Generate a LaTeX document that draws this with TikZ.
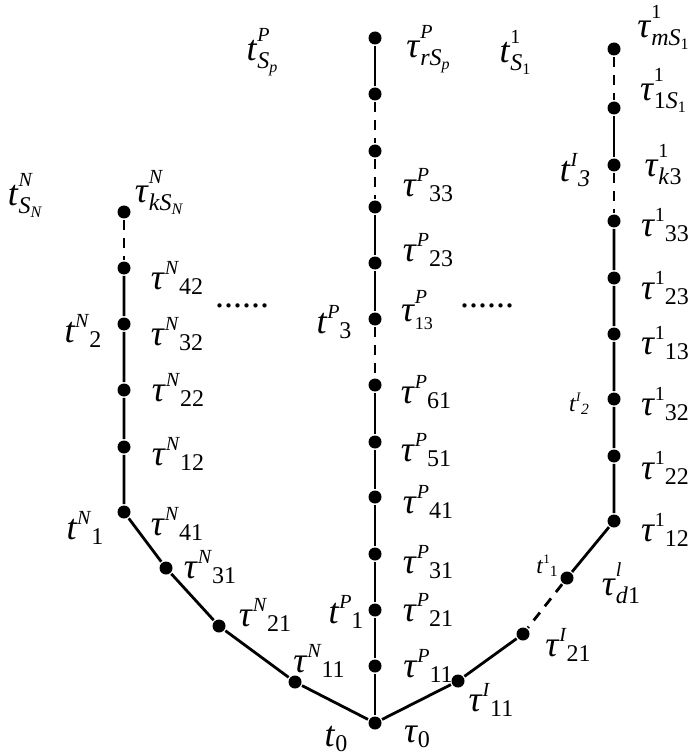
\documentclass[tikz,border=0pt]{standalone}
\usepackage{fontspec}
\usepackage{graphicx}
\setmainfont{Liberation Serif}
\newcommand{\tu}{\textit{τ}}
\newcommand{\ti}{\textit{t}}
\newcommand{\sps}{\fontsize{10}{10}\selectfont}
\newcommand{\sbs}{\fontsize{12}{12}\selectfont}
\newcommand{\stg}[3]{#1\raisebox{7.5pt}{\sps #2}\raisebox{-2.5pt}{\sbs #3}}
\newcommand{\stk}[3]{#1\rlap{\raisebox{9.5pt}{\sps #2}}\raisebox{-4pt}{\sbs #3}}
\newcommand{\low}[1]{\raisebox{-2pt}{\fontsize{8}{8}\selectfont #1}}
\tikzset{
  dot/.style={circle,fill,inner sep=0pt,minimum size=6.5pt},
  lab/.style={inner sep=0pt,font=\fontsize{18}{20}\selectfont},
  dash line/.style={dash pattern=on 5pt off 4pt}
}
\begin{document}
\begin{tikzpicture}[x=0.5pt,y=-0.5pt,line width=1.4pt]
\useasboundingbox (0,0) rectangle (688,754);
% dots of the middle branch
\node[dot] (m1) at (375,38){};
\node[dot] (m2) at (375,94){};
\node[dot] (m3) at (375,151){};
\node[dot] (m4) at (375,207){};
\node[dot] (m5) at (375,263){};
\node[dot] (m6) at (375,319){};
\node[dot] (m7) at (375,385){};
\node[dot] (m8) at (375,442){};
\node[dot] (m9) at (375,497){};
\node[dot] (m10) at (375,554){};
\node[dot] (m11) at (375,610){};
\node[dot] (m12) at (375,666){};
\node[dot] (o) at (375,723){};
% dots of the left branch
\node[dot] (l1) at (124,212){};
\node[dot] (l2) at (124,268){};
\node[dot] (l3) at (124,324){};
\node[dot] (l4) at (124,390){};
\node[dot] (l5) at (124,447){};
\node[dot] (l6) at (124,512){};
\node[dot] (l7) at (166,568){};
\node[dot] (l8) at (219,626){};
\node[dot] (l9) at (295,682){};
% dots of the right branch
\node[dot] (r1) at (614,49){};
\node[dot] (r2) at (614,108){};
\node[dot] (r3) at (614,165){};
\node[dot] (r4) at (614,221){};
\node[dot] (r5) at (614,278){};
\node[dot] (r6) at (614,334){};
\node[dot] (r7) at (614,399){};
\node[dot] (r8) at (614,456){};
\node[dot] (r9) at (614,521){};
\node[dot] (r10) at (567,578){};
\node[dot] (r11) at (523,634){};
\node[dot] (r12) at (458,681){};
% lines
\draw (m1)--(m2);
\draw[dash line] (m2)--(m3)--(m4);
\draw (m4)--(m5)--(m6);
\draw[dash line] (m6)--(m7);
\draw (m7)--(m8)--(m9)--(m10)--(m11)--(m12)--(o);
\draw[dash line] (l1)--(l2);
\draw (l2)--(l3)--(l4)--(l5)--(l6)--(l7)--(l8)--(l9)--(o);
\draw[dash line] (r1)--(r2);
\draw (r2)--(r3);
\draw[dash line] (r3)--(r4);
\draw (r4)--(r5)--(r6)--(r7)--(r8)--(r9)--(r10);
\draw[dash line] (r10)--(r11);
\draw (r11)--(r12)--(o);
% labels, left
\node[lab] (tSN) at (25,195){\stk{\ti}{\textit{N}}{\textit{S}\low{\textit{N}}}};
\node[lab] (tauNk) at (159,192){\stk{\tu}{\textit{N}}{\textit{kS}\low{\textit{N}}}};
\node[lab] (tauN42) at (177,278){\stg{\tu}{\textit{N}}{42}};
\node[lab] (tN2) at (83,331){\stg{\ti}{\textit{N}}{2}};
\node[lab] (tauN32) at (177,334){\stg{\tu}{\textit{N}}{32}};
\node[lab] (tauN22) at (178,390){\stg{\tu}{\textit{N}}{22}};
\node[lab] (tauN12) at (178,454){\stg{\tu}{\textit{N}}{12}};
\node[lab] (tN1) at (85,528){\stg{\ti}{\textit{N}}{1}};
\node[lab] (tauN41) at (177,524){\stg{\tu}{\textit{N}}{41}};
\node[lab] (tauN31) at (210,567){\stg{\tu}{\textit{N}}{31}};
\node[lab] (tauN21) at (265,615){\stg{\tu}{\textit{N}}{21}};
\node[lab] (tauN11) at (319,661){\stg{\tu}{\textit{N}}{11}};
\node[lab] (dotsL) at (242,306){......};
% labels, middle
\node[lab] (tSP) at (262,52){\stk{\ti}{\textit{P}}{\textit{S}\low{\textit{p}}}};
\node[lab] (tauPr) at (428,49){\stk{\tu}{\textit{P}}{\textit{rS}\low{\textit{p}}}};
\node[lab] (tauP33) at (428,185){\stg{\tu}{\textit{P}}{33}};
\node[lab] (tauP23) at (428,250){\stg{\tu}{\textit{P}}{23}};
\node[lab] (tauP13) at (417,310){\tu\rlap{\raisebox{9pt}{\sps\textit{P}}}\raisebox{-4pt}{\fontsize{9}{9}\selectfont 13}};
\node[lab] (tP3) at (334,322){\stg{\ti}{\textit{P}}{3}};
\node[lab] (tauP61) at (426,392){\stg{\tu}{\textit{P}}{61}};
\node[lab] (tauP51) at (426,450){\stg{\tu}{\textit{P}}{51}};
\node[lab] (tauP41) at (428,502){\stg{\tu}{\textit{P}}{41}};
\node[lab] (tauP31) at (428,562){\stg{\tu}{\textit{P}}{31}};
\node[lab] (tauP21) at (428,610){\stg{\tu}{\textit{P}}{21}};
\node[lab] (tauP11) at (428,666){\stg{\tu}{\textit{P}}{11}};
\node[lab] (tP1) at (346,612){\stg{\ti}{\textit{P}}{1}};
\node[lab] (t0) at (336,739){\ti\raisebox{-2.5pt}{\sbs 0}};
\node[lab] (tau0) at (417,737){\tu\raisebox{-2.5pt}{\sbs 0}};
\node[lab] (dotsR) at (487,306){......};
% labels, right
\node[lab] (tS1) at (515,52){\stk{\ti}{1}{\textit{S}\low{1}}};
\node[lab] (taum) at (663,27){\stk{\tu}{1}{\textit{mS}\low{1}}};
\node[lab] (tau1S) at (663,90){\stk{\tu}{1}{1\textit{S}\low{1}}};
\node[lab] (tauk3) at (663,165){\stk{\tu}{1}{\textit{k}3}};
\node[lab] (tI3) at (575,170){\stg{\ti}{\textit{I}}{\textit{3}}};
\node[lab] (tau133) at (665,225){\stg{\tu}{1}{33}};
\node[lab] (tau123) at (665,288){\stg{\tu}{1}{23}};
\node[lab] (tau113) at (665,343){\stg{\tu}{1}{13}};
\node[lab] (tau132) at (665,404){\stg{\tu}{1}{32}};
\node[lab] (tI2) at (579,404){\scalebox{0.65}{\stg{\ti}{\textit{I}}{\textit{2}}}};
\node[lab] (tau122) at (665,468){\stg{\tu}{1}{22}};
\node[lab] (tau112) at (665,530){\stg{\tu}{1}{12}};
\node[lab] (tauld) at (621,583){\stk{\tu}{\textit{l}}{\textit{d}1}};
\node[lab] (t11) at (547,566){\scalebox{0.65}{\stg{\ti}{1}{1}}};
\node[lab] (tauI21) at (568,645){\stg{\tu}{\textit{I}}{21}};
\node[lab] (tauI11) at (491,700){\stg{\tu}{\textit{I}}{11}};
\end{tikzpicture}
\end{document}
